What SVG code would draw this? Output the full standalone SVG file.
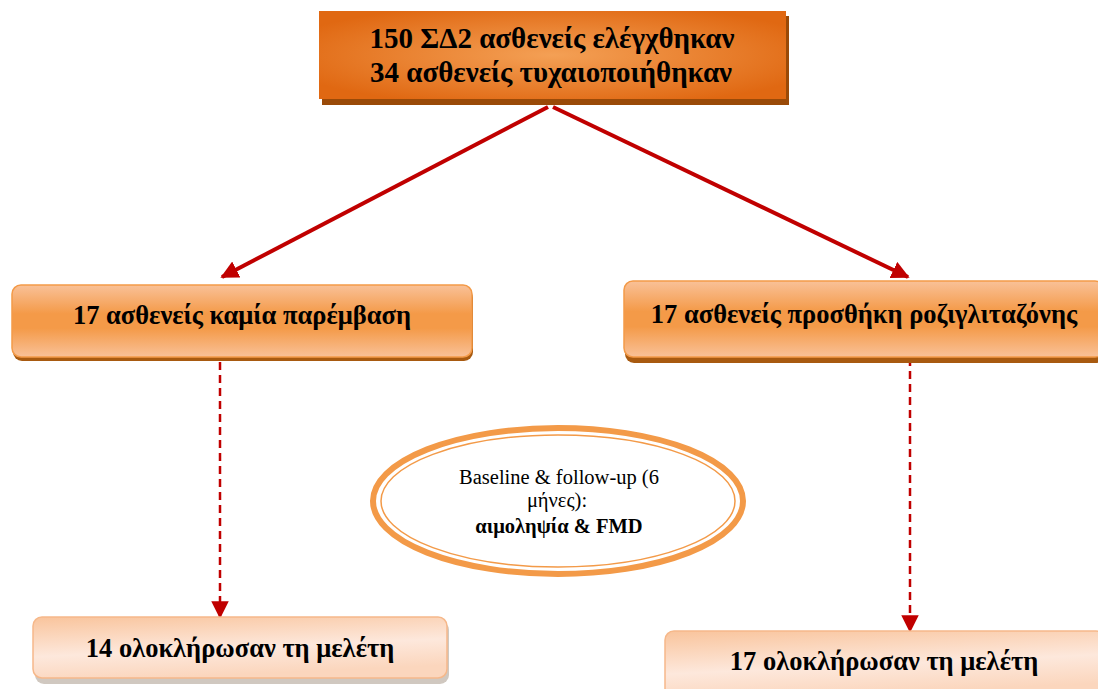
<svg xmlns="http://www.w3.org/2000/svg" width="1098" height="689" viewBox="0 0 1098 689">
<defs>
<radialGradient id="gTop" cx="0.5" cy="0.5" r="0.6">
<stop offset="0" stop-color="#f4a055"/>
<stop offset="1" stop-color="#e06812"/>
</radialGradient>
<linearGradient id="gMid" x1="0" y1="0" x2="0" y2="1">
<stop offset="0" stop-color="#f9c198"/>
<stop offset="0.4" stop-color="#f49a48"/>
<stop offset="0.6" stop-color="#f49a48"/>
<stop offset="1" stop-color="#f9c198"/>
</linearGradient>
<linearGradient id="gBot" x1="0" y1="0" x2="0.3" y2="1">
<stop offset="0" stop-color="#f9c49c"/>
<stop offset="0.6" stop-color="#fde8dc"/>
<stop offset="1" stop-color="#fbd6bd"/>
</linearGradient>
<marker id="ah" viewBox="0 0 10 10" refX="9" refY="5" markerWidth="4.5" markerHeight="4.5" orient="auto" markerUnits="strokeWidth">
<path d="M0,0 L10,5 L0,10 Z" fill="#c00000"/>
</marker>
<marker id="ahd" viewBox="0 0 10 10" refX="9" refY="5" markerWidth="7" markerHeight="7" orient="auto" markerUnits="strokeWidth">
<path d="M0,0 L10,5 L0,10 Z" fill="#c00000"/>
</marker>
<style>
.t{font-family:"Liberation Serif","Times New Roman",serif;font-weight:bold;fill:#000;text-anchor:middle}
.big{font-size:29px}
.mid{font-size:26.5px}
.n{font-family:"Liberation Serif","Times New Roman",serif;font-size:20.5px;fill:#000;text-anchor:middle}
.solid{stroke:#c00000;stroke-width:4;fill:none;marker-end:url(#ah)}
.dash{stroke:#c00000;stroke-width:2.5;fill:none;stroke-dasharray:8,5;marker-end:url(#ahd)}
</style>
</defs>
<rect width="1098" height="689" fill="#fff"/>
<g id="connectors">
<line class="solid" x1="548" y1="107" x2="222" y2="277"/>
<line class="solid" x1="553" y1="107" x2="908" y2="277"/>
<line class="dash" x1="220" y1="362" x2="220" y2="617"/>
<line class="dash" x1="910" y1="358" x2="910" y2="631"/>
</g>
<g id="top">
<rect x="322" y="16" width="467" height="89" fill="#9a4a08"/>
<rect x="319" y="11" width="467" height="88" fill="url(#gTop)"/>
<text class="t big" x="552" y="48">150 ΣΔ2 ασθενείς ελέγχθηκαν</text>
<text class="t big" x="551" y="82">34 ασθενείς τυχαιοποιήθηκαν</text>
</g>
<g id="left">
<rect x="13" y="289" width="460" height="72" rx="9" fill="#a85a10"/>
<rect x="12" y="285" width="460" height="72" rx="9" fill="url(#gMid)" stroke="#f39a48" stroke-width="1.5"/>
<text class="t mid" x="242" y="324">17 ασθενείς καμία παρέμβαση</text>
</g>
<g id="right">
<rect x="625" y="286" width="480" height="77" rx="9" fill="#a85a10"/>
<rect x="624" y="281" width="480" height="76" rx="9" fill="url(#gMid)" stroke="#f39a48" stroke-width="1.5"/>
<text class="t mid" x="864" y="323">17 ασθενείς προσθήκη ροζιγλιταζόνης</text>
</g>
<g id="ellipse">
<ellipse cx="558" cy="501" rx="185" ry="73" fill="#fff" stroke="#f39a48" stroke-width="6"/>
<ellipse cx="558" cy="501" rx="177" ry="66" fill="none" stroke="#f39a48" stroke-width="1.5"/>
<text class="n" x="559" y="484">Baseline &amp; follow-up (6</text>
<text class="n" x="557" y="507">μήνες):</text>
<text class="n" x="559" y="533" font-weight="bold">αιμοληψία &amp; FMD</text>
</g>
<g id="bottomLeft">
<rect x="35" y="621" width="414" height="63" rx="9" fill="#d0c8c0"/>
<rect x="33" y="617" width="414" height="61" rx="9" fill="url(#gBot)" stroke="#f6b88a" stroke-width="1.5"/>
<text class="t mid" x="240" y="657">14 ολοκλήρωσαν τη μελέτη</text>
</g>
<g id="bottomRight">
<rect x="668" y="635" width="440" height="67" rx="9" fill="#d0c8c0"/>
<rect x="665" y="631" width="440" height="66" rx="9" fill="url(#gBot)" stroke="#f6b88a" stroke-width="1.5"/>
<text class="t mid" x="884" y="670">17 ολοκλήρωσαν τη μελέτη</text>
</g>
</svg>
